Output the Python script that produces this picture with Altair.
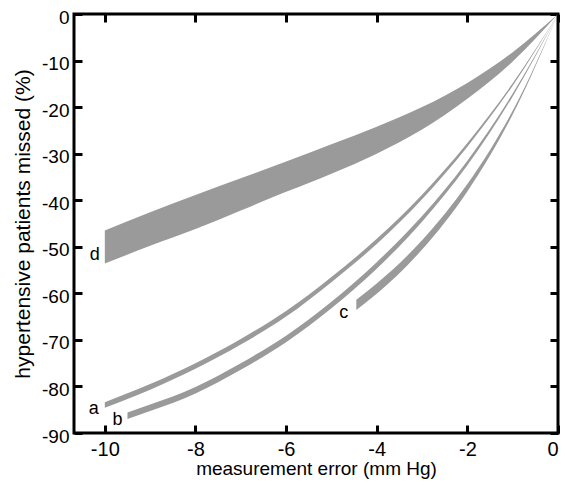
import altair as alt
import pandas as pd

# ---- data ----
d_x = [-10, -9, -8, -7, -6, -5, -4, -3, -2, -1, 0]
d_hi = [-46.5, -42.6, -38.9, -35.3, -31.7, -28.0, -24.2, -20.0, -14.8, -8.2, 0]
d_lo = [-53.6, -49.8, -46.2, -42.2, -38.2, -34.3, -30.0, -24.8, -18.2, -10.2, 0]

a_x = [-10, -9, -8, -7, -6, -5, -4, -3, -2, -1, 0]
a_hi = [-83.4, -79.5, -75.0, -69.8, -63.8, -56.5, -48.3, -38.8, -27.7, -14.9, 0]
a_lo = [-84.6, -80.7, -76.2, -71.0, -65.0, -57.6, -49.4, -39.8, -28.5, -15.4, 0]

b_x = [-9.5, -9, -8, -7, -6, -5, -4, -3, -2, -1, 0]
b_hi = [-85.6, -83.9, -80.1, -75.0, -69.1, -61.8, -53.3, -43.4, -31.5, -17.1, 0]
b_lo = [-87.0, -85.3, -81.5, -76.4, -70.5, -63.2, -54.7, -44.6, -32.5, -17.7, 0]

c_x = [-4.45, -4, -3, -2, -1.5, -1, 0]
c_hi = [-61.4, -57.9, -48.6, -36.5, -29.2, -20.8, 0]
c_lo = [-63.6, -60.1, -50.6, -38.1, -30.4, -21.6, 0]

band_names = ["a", "b", "c", "d"]
x_ticks = [-10, -8, -6, -4, -2, 0]
y_ticks = [0, -10, -20, -30, -40, -50, -60, -70, -80, -90]

series = {"a": (a_x, a_hi, a_lo), "b": (b_x, b_hi, b_lo),
          "c": (c_x, c_hi, c_lo), "d": (d_x, d_hi, d_lo)}

rows = []
for name in band_names:
    xs_, his, los = series[name]
    for x, h, l in zip(xs_, his, los):
        rows.append({"band": name, "x": x, "hi": h, "lo": l})
df = pd.DataFrame(rows)

FONT = "Liberation Sans"
TICK = 8
GRAY = "#9a9a9a"
PLAIN = "'' + datum.value"   # plain hyphen-minus like the reference

xscale = alt.Scale(domain=[-10.68, 0], nice=False, zero=False)
yscale = alt.Scale(domain=[-90, 0], nice=False, zero=False)

common_axis = dict(domain=False, grid=False, tickSize=TICK, tickWidth=3,
                   tickColor="black", offset=-TICK, labelFont=FONT,
                   titleFont=FONT, labelColor="black", titleColor="black",
                   titleFontWeight="normal")

bands = alt.Chart(df).mark_area(color=GRAY, interpolate="monotone").encode(
    x=alt.X("x:Q", scale=xscale,
            axis=alt.Axis(values=x_ticks, orient="bottom",
                          title="measurement error (mm Hg)",
                          labelExpr=PLAIN,
                          labelFontSize=20, titleFontSize=19,
                          labelPadding=6, titlePadding=0, **common_axis)),
    y=alt.Y("hi:Q", scale=yscale,
            axis=alt.Axis(values=y_ticks, orient="left",
                          title="hypertensive patients missed (%)",
                          labelExpr=PLAIN,
                          labelFontSize=19, titleFontSize=21,
                          labelOffset=3,
                          labelPadding=5, titlePadding=8, **common_axis)),
    y2="lo:Q",
    detail="band:N",
)

frame = alt.Chart(df).mark_point(opacity=0).encode(
    x=alt.X("x:Q", scale=xscale,
            axis=alt.Axis(values=x_ticks, orient="top", labels=False,
                          title=None, **common_axis)),
    y=alt.Y("hi:Q", scale=yscale,
            axis=alt.Axis(values=y_ticks, orient="right", labels=False,
                          title=None, **common_axis)),
)

# label offsets (pixels) from the start of each band
offsets = {"a": (-6, 9), "b": (-5, 9), "c": (-8, 13), "d": (-5, 13)}
label_layers = []
for name in band_names:
    xs_, his, los = series[name]
    ldf = pd.DataFrame([{"band": name, "x": xs_[0], "y": (his[0] + los[0]) / 2}])
    dx, dy = offsets[name]
    label_layers.append(
        alt.Chart(ldf).mark_text(align="right", baseline="alphabetic",
                                 font=FONT, fontSize=18, color="black",
                                 dx=dx, dy=dy).encode(
            x=alt.X("x:Q", scale=xscale, axis=None),
            y=alt.Y("y:Q", scale=yscale, axis=None),
            text="band:N",
        )
    )

chart = alt.layer(bands, frame, *label_layers).resolve_axis(
    x="independent", y="independent"
).properties(
    width=484, height=419,
    autosize=alt.AutoSizeParams(type="none"),
    padding={"left": 66, "top": 6, "right": 2, "bottom": 47},
    background="white",
).configure_view(stroke="black", strokeWidth=3)

chart.save("out.html", embed_options={"renderer": "svg", "actions": False})
